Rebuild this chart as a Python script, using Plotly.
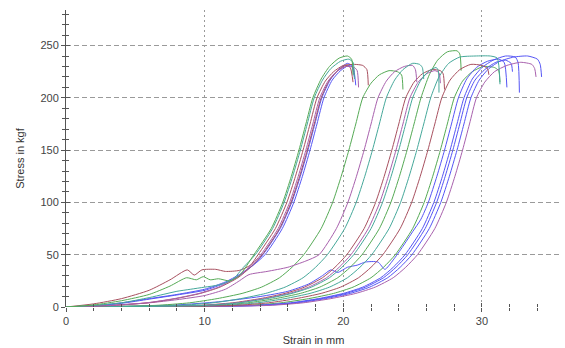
import plotly.graph_objects as go

GREEN = "#55aa55"
TEAL = "#45a89a"
RED = "#a8505f"
PURPLE = "#a860ad"
BLUE = "#5555f5"

# ---- Group A (steep rise ~ 13-18 mm) ----
a1_green = [(0,0),(2,2),(4,6),(6,12),(7.5,20),(8.7,28),(9.4,26),(9.9,29),(10.4,26),(11,27),(11.8,25),(12.5,30),
            (13.55,50),(14.8,75),(15.63,100),(16.25,125),(16.8,150),(17.3,175),(17.8,200),(18.4,218),(19.0,230),
            (19.7,238),(20.3,240),(20.6,237),(20.7,222)]
a2_teal = [(0,0),(2,1.5),(4,4),(6,9),(7,12),(8,15),(9,17),(10,19),(11,21),(12,26),(12.8,38),(13.65,50),(14.9,75),
           (15.73,100),(16.35,125),(16.9,150),(17.4,175),(17.9,200),(18.5,217),(19.1,228),(19.8,235),(20.4,237),
           (20.7,234),(20.8,218)]
a3_red = [(0,0),(2,3),(4,8),(6,16),(7.5,26),(8.75,35.5),(9.25,30.5),(9.8,35.5),(10.8,36),(11.5,34),(12.5,35),
          (13.3,40),(13.85,50),(15.1,75),(15.93,100),(16.55,125),(17.1,150),(17.6,175),(18.1,200),(18.7,216),
          (19.3,225),(20.0,231),(20.8,232),(21.4,231),(21.7,227),(21.8,212)]
a4_purple = [(0,0),(3.3,1.5),(5.8,4),(7.8,8),(9.6,13),(11.0,19),(12.3,28),(13.2,38),(14.05,50),(15.3,75),
             (16.13,100),(16.75,125),(17.3,150),(17.8,175),(18.3,200),(18.9,216),(19.5,225),(20.2,230),
             (20.8,229),(21.0,226),(21.1,210)]
a5_red = [(0,0),(3.4,1.5),(5.9,4),(7.9,8),(9.7,13),(11.1,19),(12.4,28),(13.3,38),(14.15,50),(15.4,75),
          (16.23,100),(16.85,125),(17.4,150),(17.9,175),(18.4,200),(19.0,217),(19.6,226),(20.2,231),
          (20.5,229),(20.7,215)]
a6_blue = [(0,0),(2,1),(4,4),(6,8),(8,12),(10,17),(11.5,24),(12.5,31),(13.6,41),(14.35,50),(15.6,75),
           (16.43,100),(17.05,125),(17.6,150),(18.1,175),(18.6,200),(19.2,217),(19.8,226),(20.4,231),
           (20.7,229),(20.9,212)]
a7_blue = [(0,0),(2,1),(4,3.5),(6,7.5),(8,11.5),(10,16),(11.5,23),(12.5,30),(13.5,40),(14.2,50),(15.45,75),
           (16.28,100),(16.9,125),(17.45,150),(17.95,175),(18.45,200),(19.05,217),(19.65,227),(20.3,233),
           (20.6,231),(20.8,220)]

# ---- Group B ----
b1_green = [(0,0),(6.4,1.5),(8.9,4),(10.9,8),(12.7,13),(14.1,19),(15.4,28),(16.3,38),(17.15,50),(18.4,75),
            (19.23,100),(19.85,125),(20.4,150),(20.9,175),(21.4,200),(22.0,214),(22.6,222),(23.3,226),
            (23.9,225),(24.2,222),(24.3,208)]
b2_purple = [(0,0),(3,1.5),(6,4),(8,7),(10,11),(11.5,17),(12.5,25),(13.2,31),(14.5,34),(16,38),(17.3,44),
             (18.25,50),(19.5,75),(20.33,100),(20.95,125),(21.5,150),(22.0,175),(22.5,200),(23.1,216),
             (23.7,225),(24.4,230),(25.0,231),(25.2,227),(25.3,215)]
b3_teal = [(0,0),(8.1,1.5),(10.6,4),(12.6,8),(14.4,13),(15.8,19),(17.1,28),(18.0,38),(18.85,50),(20.1,75),
           (20.93,100),(21.55,125),(22.1,150),(22.6,175),(23.1,200),(23.7,217),(24.3,227),(25.0,233),
           (25.5,232),(25.7,229),(25.8,218)]

# ---- Group C ----
c1_red = [(0,0),(9.5,1.5),(12.0,4),(14.0,8),(15.8,13),(17.2,19),(18.5,28),(19.4,38),(20.25,50),(21.5,75),
          (22.33,100),(22.95,125),(23.5,150),(24.0,175),(24.5,200),(25.1,215),(25.7,223),(26.4,227),
          (27.0,226),(27.2,223),(27.3,208)]
c2_purple = [(0,0),(9.8,1.5),(12.3,4),(14.3,8),(16.1,13),(17.5,19),(18.8,28),(19.7,38),(20.55,50),(21.8,75),
             (22.63,100),(23.25,125),(23.8,150),(24.3,175),(24.8,200),(25.4,215),(26.0,223),(26.6,226),
             (26.9,224),(27.0,214)]
c3_teal = [(0,0),(10.0,1.5),(12.5,4),(14.5,8),(16.3,13),(17.7,19),(19.0,28),(19.9,38),(20.75,50),(22.0,75),
           (22.83,100),(23.45,125),(24.0,150),(24.5,175),(25.0,200),(25.6,217),(26.2,226),(26.7,229),
           (26.85,226),(26.9,205)]

# ---- Group D ----
d1_green = [(0,0),(10.6,1.5),(13.1,4),(15.1,8),(16.9,13),(18.3,19),(19.6,28),(20.5,38),(21.35,50),(22.6,75),
            (23.43,100),(24.05,125),(24.6,150),(25.1,175),(25.6,200),(26.2,222),(26.8,236),(27.5,244),
            (28.2,245),(28.4,242),(28.5,226)]
d2_teal = [(0,0),(11.3,1.5),(13.8,4),(15.8,8),(17.6,13),(19.0,19),(20.3,28),(21.2,38),(22.05,50),(23.3,75),
           (24.13,100),(24.75,125),(25.3,150),(25.8,175),(26.3,200),(26.9,220),(27.6,233),(28.4,239),
           (29.5,240),(30.6,240),(31.1,238),(31.3,213)]
d3_red = [(0,0),(12.1,1.5),(14.6,4),(16.6,8),(18.4,13),(19.8,19),(21.1,28),(22.0,38),(22.85,50),(24.1,75),
          (24.93,100),(25.55,125),(26.1,150),(26.6,175),(27.1,200),(27.7,217),(28.4,227),(29.2,232),
          (30.0,231),(30.4,228),(30.5,222)]

# ---- Group E ----
e1_green = [(0,0),(13.0,1.5),(15.5,4),(17.5,8),(19.3,13),(20.7,19),(22.0,28),(22.9,38),(23.75,50),(25.0,75),
            (25.83,100),(26.45,125),(27.0,150),(27.5,175),(28.0,200),(28.6,216),(29.3,225),(30.1,230),
            (30.9,229),(31.2,226),(31.3,215)]
e2_blue = [(0,0),(4,0.5),(8,2),(11,5),(14,10),(16,15),(17.5,22),(18.5,30),(19.1,35.5),(19.6,33),(20.3,38),
           (21.0,40),(21.6,43),(22.5,43),(23.0,36),(23.6,45),(24.3,58),(25.0,72),(25.6,84),(26.13,100),
           (26.75,125),(27.3,150),(27.8,175),(28.3,200),(28.9,218),(29.6,229),(30.4,235),(31.2,237),
           (31.6,234),(31.8,210)]
e3_blue = [(0,0),(13.7,1.5),(16.2,4),(18.2,8),(20.0,13),(21.4,19),(22.7,28),(23.6,38),(24.45,50),(25.7,75),
           (26.53,100),(27.15,125),(27.7,150),(28.2,175),(28.7,200),(29.3,218),(30.0,229),(30.8,236),
           (31.7,240),(32.4,239),(32.6,234),(32.7,205)]
e4_blue = [(0,0),(13.9,1.5),(16.4,4),(18.4,8),(20.2,13),(21.6,19),(22.9,28),(23.8,38),(24.65,50),(25.9,75),
           (26.73,100),(27.35,125),(27.9,150),(28.4,175),(28.9,200),(29.5,217),(30.2,227),(31.0,234),
           (31.7,236),(32.1,233),(32.2,225)]
e5_blue = [(0,0),(14.2,1.5),(16.7,4),(18.7,8),(20.5,13),(21.9,19),(23.2,28),(24.1,38),(24.95,50),(26.2,75),
           (27.03,100),(27.65,125),(28.2,150),(28.7,175),(29.2,200),(29.8,217),(30.5,228),(31.3,235),
           (32.3,239),(33.3,240),(34.0,237),(34.2,232),(34.3,220)]
e6_purple = [(0,0),(14.6,1.5),(17.1,4),(19.1,8),(20.9,13),(22.3,19),(23.6,28),(24.5,38),(25.35,50),(26.6,75),
             (27.43,100),(28.05,125),(28.6,150),(29.1,175),(29.6,200),(30.2,215),(30.9,225),(31.8,231),
             (32.8,234),(33.6,232),(33.8,228),(33.9,220)]

curves = [
    (e1_green, GREEN), (e2_blue, BLUE), (e3_blue, BLUE), (e4_blue, BLUE), (e5_blue, BLUE), (e6_purple, PURPLE),
    (d1_green, GREEN), (d2_teal, TEAL), (d3_red, RED),
    (c1_red, RED), (c2_purple, PURPLE), (c3_teal, TEAL),
    (b1_green, GREEN), (b2_purple, PURPLE), (b3_teal, TEAL),
    (a7_blue, BLUE), (a6_blue, BLUE), (a5_red, RED), (a4_purple, PURPLE), (a3_red, RED), (a2_teal, TEAL),
    (a1_green, GREEN),
]

x_ticks = [0, 10, 20, 30]
y_ticks = [0, 50, 100, 150, 200, 250]
X_RANGE = [0, 35.7]
Y_RANGE = [0, 284]

fig = go.Figure()
for pts, color in curves:
    fig.add_trace(go.Scatter(
        x=[p[0] for p in pts], y=[p[1] for p in pts], mode="lines",
        line=dict(color=color, width=1, shape="spline", smoothing=0.6),
        hoverinfo="skip", showlegend=False))

# invisible trace to activate overlay axes (inner half of cross ticks)
fig.add_trace(go.Scatter(x=[None], y=[None], xaxis="x2", yaxis="y2", showlegend=False, hoverinfo="skip"))

AX = "#555555"
GRID = "#9a9a9a"
font = dict(family="Liberation Sans, Arial, sans-serif", size=11, color="#444444")

fig.update_layout(
    width=565, height=348,
    margin=dict(l=66, r=4, t=10, b=41),
    plot_bgcolor="white", paper_bgcolor="white",
    font=font,
    xaxis=dict(range=X_RANGE, tickvals=x_ticks, ticktext=[str(v) for v in x_ticks],
               showgrid=True, gridcolor=GRID, griddash="2px,3px", gridwidth=1,
               ticks="outside", ticklen=4, tickcolor=AX, tickwidth=1,
               minor=dict(dtick=2, tick0=0, ticks="outside", ticklen=3, tickcolor=AX, showgrid=False),
               showline=False, zeroline=False,
               title=dict(text="Strain in mm", font=dict(size=11, color="#333333"), standoff=10)),
    yaxis=dict(range=Y_RANGE, tickvals=y_ticks, ticktext=[str(v) for v in y_ticks],
               showgrid=True, gridcolor=GRID, griddash="5px,3px", gridwidth=1,
               ticks="outside", ticklen=4, tickcolor=AX, tickwidth=1,
               minor=dict(dtick=10, tick0=0, ticks="outside", ticklen=3, tickcolor=AX, showgrid=False),
               showline=True, linecolor=AX, linewidth=1, zeroline=False,
               title=dict(text="Stress in kgf", font=dict(size=11, color="#333333"), standoff=13)),
    xaxis2=dict(range=X_RANGE, overlaying="x", anchor="y", side="bottom", showgrid=False,
                tickvals=x_ticks, showticklabels=False, ticks="inside", ticklen=4, tickcolor=AX,
                minor=dict(dtick=2, tick0=0, ticks="inside", ticklen=3, tickcolor=AX, showgrid=False),
                showline=False, zeroline=False),
    yaxis2=dict(range=Y_RANGE, overlaying="y", anchor="x", side="left", showgrid=False,
                tickvals=y_ticks, showticklabels=False, ticks="inside", ticklen=4, tickcolor=AX,
                minor=dict(dtick=10, tick0=0, ticks="inside", ticklen=3, tickcolor=AX, showgrid=False),
                showline=False, zeroline=False),
)

fig.write_html("out.html")
